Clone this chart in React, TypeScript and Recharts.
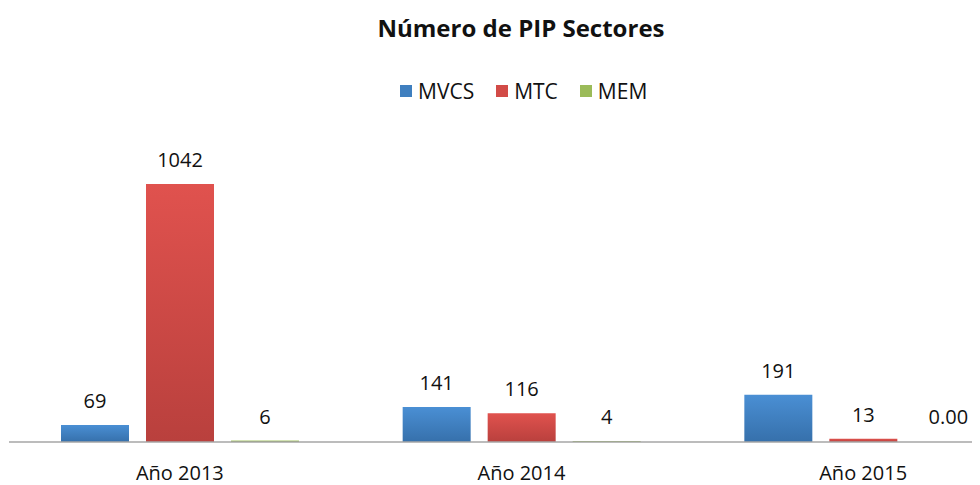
import React from "react";
import { BarChart, Bar, XAxis, YAxis, LabelList, Cell } from "recharts";

const categories = ["Año 2013", "Año 2014", "Año 2015"];
const mvcs = [69, 141, 191];
const mtc = [1042, 116, 13];
const mem = [6, 4, 0];
const seriesNames = ["MVCS", "MTC", "MEM"];

const data = categories.map((c, i) => ({ name: c, MVCS: mvcs[i], MTC: mtc[i], MEM: mem[i] }));

const FONT = "'Open Sans', 'Liberation Sans', sans-serif";
const legendColors: Record<string, string> = { MVCS: "#3f7fbf", MTC: "#d24b47", MEM: "#9bbb59" };

const fmt = (v: any) => (Number(v) === 0 ? "0.00" : String(v));

const renderLabel = (props: any) => {
  const { x, y, width, value } = props;
  const cx = Number(x) + Number(width) / 2;
  return (
    <text x={cx} y={Number(y) - 17} textAnchor="middle" fontFamily={FONT} fontSize={20} fill="#111">
      {fmt(value)}
    </text>
  );
};

export default function App() {
  return (
    <div style={{ width: 972, height: 477, overflow: "hidden", position: "relative" }}>
      <div
        style={{
          position: "absolute",
          top: 3,
          left: 0,
          width: 1026,
          textAlign: "center",
          fontFamily: FONT,
          fontWeight: 700,
          fontSize: 24,
          color: "#111",
          zIndex: 2,
        }}
      >
        Número de PIP Sectores
      </div>
      <div
        style={{
          position: "absolute",
          top: 69,
          left: 392,
          display: "flex",
          fontFamily: FONT,
          fontSize: 21,
          color: "#111",
          zIndex: 2,
        }}
      >
        {seriesNames.map((n, i) => (
          <div key={n} style={{ display: "flex", alignItems: "center", marginRight: i < 2 ? 22 : 0 }}>
            <span style={{ width: 12, height: 12, background: legendColors[n], display: "inline-block", marginRight: 6 }} />
            <span>{n}</span>
          </div>
        ))}
      </div>
      <BarChart
        width={1030}
        height={477}
        data={data}
        margin={{ top: 137, right: 4, bottom: 3, left: 1 }}
        barSize={68}
        barGap={17}
      >
        <defs>
          <linearGradient id="gBlue" x1="0" y1="0" x2="0" y2="1">
            <stop offset="0%" stopColor="#4a8fd4" />
            <stop offset="100%" stopColor="#3670ab" />
          </linearGradient>
          <linearGradient id="gRed" x1="0" y1="0" x2="0" y2="1">
            <stop offset="0%" stopColor="#e0524e" />
            <stop offset="100%" stopColor="#b9403d" />
          </linearGradient>
          <linearGradient id="gGreen" x1="0" y1="0" x2="0" y2="1">
            <stop offset="0%" stopColor="#a5c566" />
            <stop offset="100%" stopColor="#8aab4c" />
          </linearGradient>
        </defs>
        <XAxis
          dataKey="name"
          height={40}
          tickLine={false}
          axisLine={{ stroke: "#a6a6a6", strokeWidth: 1.5 }}
          tickMargin={18}
          tick={{ fontFamily: FONT, fontSize: 20, fill: "#111" }}
        />
        <YAxis hide domain={[0, 1200]} />
        <Bar dataKey="MVCS" fill="url(#gBlue)" isAnimationActive={false}>
          <LabelList dataKey="MVCS" content={renderLabel} />
        </Bar>
        <Bar dataKey="MTC" fill="url(#gRed)" isAnimationActive={false}>
          <LabelList dataKey="MTC" content={renderLabel} />
        </Bar>
        <Bar dataKey="MEM" fill="url(#gGreen)" minPointSize={1} isAnimationActive={false}>
          {mem.map((v, i) => (
            <Cell key={i} fill={v === 0 ? "transparent" : "url(#gGreen)"} />
          ))}
          <LabelList dataKey="MEM" content={renderLabel} />
        </Bar>
      </BarChart>
    </div>
  );
}
